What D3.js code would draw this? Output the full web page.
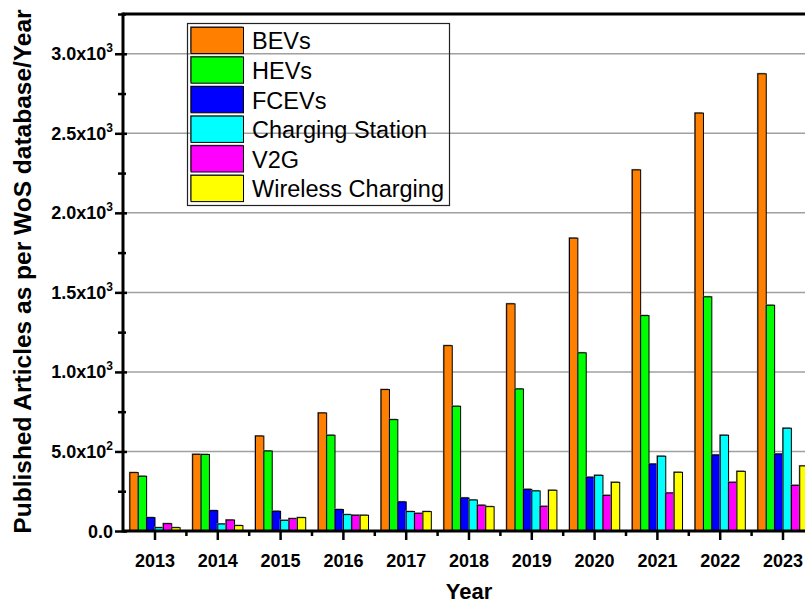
<!DOCTYPE html>
<html>
<head>
<meta charset="utf-8">
<script src="https://cdn.jsdelivr.net/npm/d3@7"></script>
<style>
  html, body { margin: 0; padding: 0; background: #fff; }
  svg { display: block; font-family: "Liberation Sans", Arial, sans-serif; }
</style>
</head>
<body>
<svg id="chart" width="805" height="603"></svg>
<script>
const years = ["2013","2014","2015","2016","2017","2018","2019","2020","2021","2022","2023"];
const seriesNames = ["BEVs","HEVs","FCEVs","Charging Station","V2G","Wireless Charging"];
const seriesColors = ["#FF8000","#00FF00","#0000FF","#00FFFF","#FF00FF","#FFFF00"];
const BEVs     = [367, 482, 597, 742, 889, 1165, 1428, 1841, 2270, 2627, 2874];
const HEVs     = [344, 481, 503, 602, 700, 784, 893, 1120, 1354, 1472, 1419];
const FCEVs    = [84, 128, 124, 135, 183, 208, 262, 338, 421, 478, 484];
const Charging = [21, 44, 67, 103, 122, 195, 252, 350, 470, 602, 646];
const V2G      = [46, 69, 78, 99, 111, 162, 155, 224, 239, 306, 287];
const Wireless = [21, 34, 84, 99, 122, 153, 256, 306, 369, 375, 409];
const yTicks = [0, 500, 1000, 1500, 2000, 2500, 3000];
const yTickMantissa = ["0.0", "5.0", "1.0", "1.5", "2.0", "2.5", "3.0"];
const yTickExp = [null, "2", "3", "3", "3", "3", "3"];
const yMinorTicks = [250, 750, 1250, 1750, 2250, 2750, 3250];
const yLabel = "Published Articles as per WoS database/Year";
const xLabel = "Year";

const seriesValues = [BEVs, HEVs, FCEVs, Charging, V2G, Wireless];

(function () {
const svg = d3.select("#chart");
const pLeft = 123, pTop = 14, pBottom = 531, pRight = 814.4;

const x = d3.scaleBand().domain(years).range([pLeft + 0.6, pRight]).paddingInner(0.2).paddingOuter(0.1);
const xs = d3.scaleBand().domain(seriesNames).range([0, x.bandwidth()]).padding(0);
const y = d3.scaleLinear().domain([0, 3250]).range([pBottom, pTop]);

// gridlines
svg.append("g").selectAll("line").data(yTicks.slice(1)).join("line")
  .attr("x1", pLeft).attr("x2", 805)
  .attr("y1", d => y(d)).attr("y2", d => y(d))
  .attr("stroke", "#a0a0a0").attr("stroke-width", 1.5);

// legend box (transparent)
const lg = svg.append("g");
lg.append("rect").attr("x", 187.5).attr("y", 23.5).attr("width", 262).attr("height", 182)
  .attr("fill", "none").attr("stroke", "#222").attr("stroke-width", 1.2);
seriesNames.forEach((s, i) => {
  const yy = 27.3 + i * 29.6;
  lg.append("rect").attr("x", 190).attr("y", yy - 1).attr("width", 52.5).attr("height", 26.3)
    .attr("fill", "#8a8a8a");
  lg.append("rect").attr("x", 191).attr("y", yy).attr("width", 52.5).attr("height", 26.3)
    .attr("fill", seriesColors[i]).attr("stroke", "#000").attr("stroke-width", 1);
  lg.append("text").attr("x", 252).attr("y", yy + 22).attr("font-size", 23.5)
    .attr("fill", "#000").text(s);
});

// bars
const groups = svg.append("g").selectAll("g").data(years).join("g")
  .attr("transform", d => `translate(${x(d)},0)`);
seriesNames.forEach((s, si) => {
  groups.append("rect")
    .attr("x", xs(s) - 1).attr("y", (d, i) => y(seriesValues[si][i]) - 1)
    .attr("width", xs.bandwidth()).attr("height", (d, i) => pBottom - y(seriesValues[si][i]))
    .attr("fill", "#8a8a8a");
  groups.append("rect")
    .attr("x", xs(s)).attr("y", (d, i) => y(seriesValues[si][i]))
    .attr("width", xs.bandwidth()).attr("height", (d, i) => pBottom - y(seriesValues[si][i]))
    .attr("fill", seriesColors[si]).attr("stroke", "#000").attr("stroke-width", 1);
});

// y axis
const yAxis = svg.append("g").attr("transform", `translate(${pLeft},0)`)
  .call(d3.axisLeft(y).tickValues(yTicks).tickSize(8).tickFormat(""));
yAxis.select(".domain").remove();
yAxis.selectAll(".tick line").attr("x2", -8).attr("x1", 4).attr("stroke", "#000").attr("stroke-width", 2.5);
const yMinor = svg.append("g").attr("transform", `translate(${pLeft},0)`)
  .call(d3.axisLeft(y).tickValues(yMinorTicks).tickSize(5).tickFormat(""));
yMinor.select(".domain").remove();
yMinor.selectAll(".tick line").attr("x2", -5).attr("x1", 3).attr("stroke", "#000").attr("stroke-width", 2.5);

// y tick labels
yTicks.forEach((v, i) => {
  const t = svg.append("text").attr("x", 113).attr("y", y(v) + 6.5)
    .attr("text-anchor", "end").attr("font-size", 18).attr("font-weight", "bold").attr("fill", "#000");
  t.append("tspan").text(yTickMantissa[i] + (yTickExp[i] ? "x10" : ""));
  if (yTickExp[i]) t.append("tspan").attr("font-size", 12).attr("dy", -8).text(yTickExp[i]);
});

// x axis
const xAxis = svg.append("g").attr("transform", `translate(0,${pBottom})`)
  .call(d3.axisBottom(x).tickSize(9).tickPadding(14));
xAxis.select(".domain").remove();
xAxis.selectAll(".tick line").attr("stroke", "#000").attr("stroke-width", 2.5);
xAxis.selectAll(".tick text").attr("font-size", 18).attr("font-weight", "bold")
  .attr("fill", "#000").attr("font-family", "Liberation Sans, Arial, sans-serif");
// minor x ticks between categories
svg.append("g").selectAll("line").data(years.slice(1)).join("line")
  .attr("x1", d => x(d) - x.step() * x.paddingInner() / 2)
  .attr("x2", d => x(d) - x.step() * x.paddingInner() / 2)
  .attr("y1", pBottom).attr("y2", pBottom + 5)
  .attr("stroke", "#000").attr("stroke-width", 2.5);

// axis frame lines
svg.append("line").attr("x1", pLeft).attr("x2", pLeft).attr("y1", pTop - 1.5).attr("y2", pBottom + 1.5)
  .attr("stroke", "#000").attr("stroke-width", 3);
svg.append("line").attr("x1", pLeft).attr("x2", 805).attr("y1", pBottom).attr("y2", pBottom)
  .attr("stroke", "#000").attr("stroke-width", 3);
svg.append("line").attr("x1", pLeft).attr("x2", 805).attr("y1", pTop).attr("y2", pTop)
  .attr("stroke", "#000").attr("stroke-width", 3);

// axis titles
svg.append("text").attr("x", 469).attr("y", 599).attr("text-anchor", "middle")
  .attr("font-size", 22).attr("font-weight", "bold").attr("fill", "#000").text(xLabel);
svg.append("text").attr("transform", "translate(31,271.5) rotate(-90)").attr("text-anchor", "middle")
  .attr("font-size", 24.5).attr("font-weight", "bold").attr("fill", "#000").text(yLabel);
})();
</script>
</body>
</html>
